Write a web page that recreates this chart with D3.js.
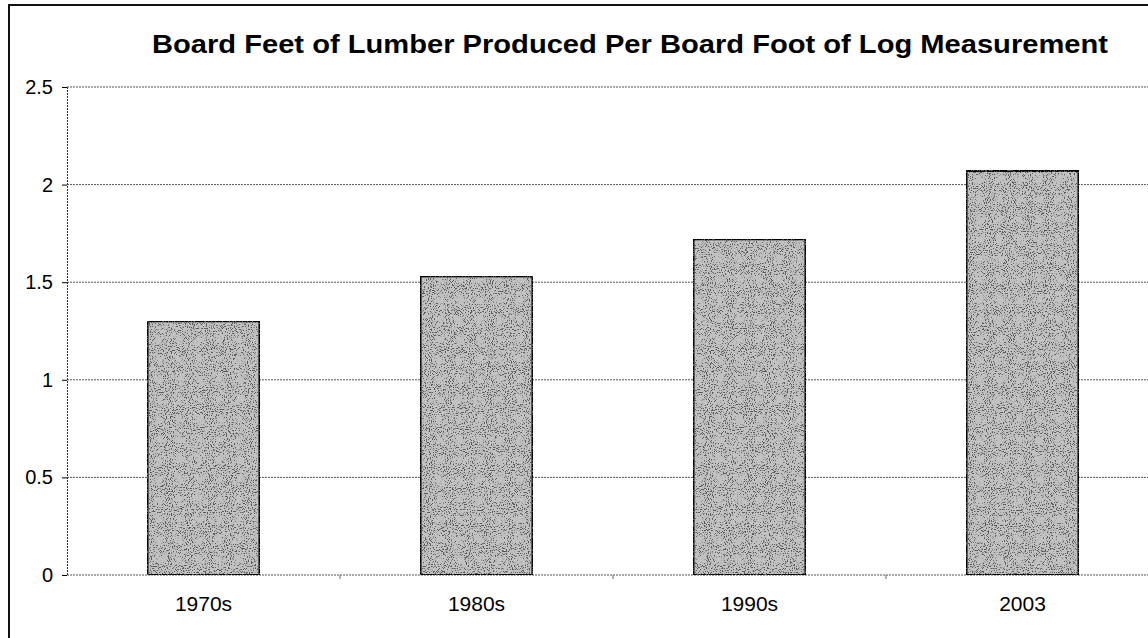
<!DOCTYPE html>
<html>
<head>
<meta charset="utf-8">
<script src="https://cdn.jsdelivr.net/npm/d3@7"></script>
<style>
  body { margin: 0; background: #fff; }
  text { font-family: "Liberation Sans", Arial, sans-serif; fill: #000; }
</style>
</head>
<body>
<script>
// chart data
var categories = ["1970s", "1980s", "1990s", "2003"];
var values = [1.3, 1.53, 1.72, 2.07];
var yTicks = [0, 0.5, 1, 1.5, 2, 2.5];
var title = "Board Feet of Lumber Produced Per Board Foot of Log Measurement";

var width = 1148,
    height = 638;

var svg = d3.select("body")
    .append("svg")
    .attr("width", width)
    .attr("height", height);

// stipple texture for the bars
var defs = svg.append("defs");
var filt = defs.append("filter")
    .attr("id", "stipple")
    .attr("x", 0).attr("y", 0).attr("width", 1).attr("height", 1);
filt.append("feTurbulence")
    .attr("type", "fractalNoise")
    .attr("baseFrequency", 0.95)
    .attr("numOctaves", 2)
    .attr("seed", 3)
    .attr("result", "noise");
filt.append("feColorMatrix")
    .attr("in", "noise")
    .attr("type", "matrix")
    .attr("values", "0 0 0 0 0.1  0 0 0 0 0.1  0 0 0 0 0.1  0 0 0 -9 4.05")
    .attr("result", "dots");
filt.append("feComposite").attr("in", "dots").attr("in2", "SourceGraphic").attr("operator", "in").attr("result", "dotsIn");
filt.append("feMerge").call(function (m) {
    m.append("feMergeNode").attr("in", "SourceGraphic");
    m.append("feMergeNode").attr("in", "dotsIn");
});

// outer frame (cropped on right and bottom in the scan)
svg.append("rect")
    .attr("x", 9).attr("y", 5)
    .attr("width", width + 20).attr("height", height + 20)
    .attr("fill", "none")
    .attr("stroke", "#111")
    .attr("stroke-width", 2);

var margin = {left: 67, top: 87, right: -11, bottom: 63};
var x = d3.scaleBand()
    .domain(categories)
    .range([margin.left, width - margin.right])
    .paddingInner(0.59)
    .paddingOuter(0.295);
var y = d3.scaleLinear()
    .domain([0, 2.5])
    .range([height - margin.bottom, margin.top]);

// title
svg.append("text")
    .attr("x", 630)
    .attr("y", 53)
    .attr("text-anchor", "middle")
    .attr("textLength", 956)
    .attr("lengthAdjust", "spacingAndGlyphs")
    .style("font-weight", "bold")
    .style("font-size", "25px")
    .text(title);

// gridlines
svg.append("g")
    .selectAll("line")
    .data(yTicks)
    .enter()
    .append("line")
    .attr("x1", margin.left)
    .attr("x2", width)
    .attr("y1", function (d) { return y(d); })
    .attr("y2", function (d) { return y(d); })
    .attr("stroke", "#555")
    .attr("stroke-width", 1)
    .attr("stroke-dasharray", "2,1");

// y axis
var yAxis = svg.append("g")
    .attr("transform", "translate(" + margin.left + ",0)")
    .call(d3.axisLeft(y).tickValues(yTicks).tickSize(5).tickPadding(9)
        .tickFormat(function (d) { return d; }));
yAxis.select(".domain").attr("stroke", "#333").attr("stroke-dasharray", "2,1");
yAxis.selectAll("text").style("font-size", "20px");

// x axis
var xAxis = svg.append("g")
    .attr("transform", "translate(0," + y(0) + ")")
    .call(d3.axisBottom(x).tickSize(0).tickPadding(21));
xAxis.select(".domain").remove();
xAxis.selectAll("text").style("font-size", "21px");

// tick marks between categories
svg.append("g")
    .selectAll("line")
    .data(categories.slice(1))
    .enter()
    .append("line")
    .attr("x1", function (d) { return x(d) - x.step() * x.paddingInner() / 2; })
    .attr("x2", function (d) { return x(d) - x.step() * x.paddingInner() / 2; })
    .attr("y1", y(0))
    .attr("y2", y(0) + 4)
    .attr("stroke", "#666");

// bars
svg.append("g")
    .selectAll("rect")
    .data(values)
    .enter()
    .append("rect")
    .attr("x", function (d, i) { return x(categories[i]); })
    .attr("y", function (d) { return y(d); })
    .attr("width", x.bandwidth())
    .attr("height", function (d) { return y(0) - y(d); })
    .attr("fill", "#c2c2c2")
    .attr("filter", "url(#stipple)")
    .attr("stroke", "#000")
    .attr("stroke-width", 2);
</script>
</body>
</html>
